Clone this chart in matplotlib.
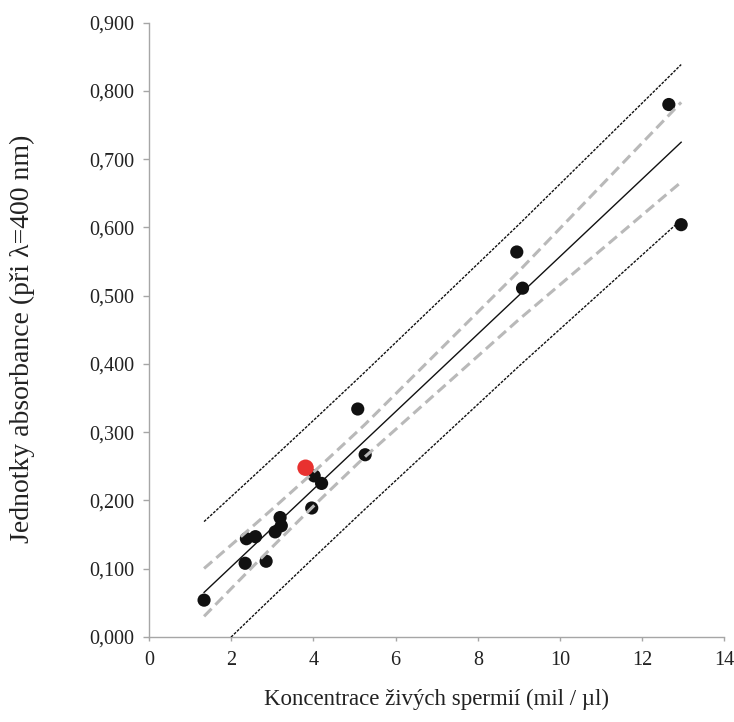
import numpy as np
import matplotlib
matplotlib.use("Agg")
import matplotlib.pyplot as plt
from matplotlib.ticker import FuncFormatter

# Data
conc = [1.34, 2.34, 2.85, 2.37, 2.59, 3.07, 3.19, 3.22, 3.96, 4.02, 4.20,
        5.08, 5.26, 8.95, 9.09, 12.65, 12.95]
absorb = [0.054, 0.108, 0.111, 0.144, 0.147, 0.154, 0.175, 0.163, 0.189,
          0.236, 0.225, 0.334, 0.267, 0.564, 0.511, 0.780, 0.604]
sample_x = [3.81]
sample_y = [0.248]
t_crit = 2.131  # Student t, 95 %, df = n - 2 = 15

x_ticks = [0, 2, 4, 6, 8, 10, 12, 14]
y_ticks = [0.0, 0.1, 0.2, 0.3, 0.4, 0.5, 0.6, 0.7, 0.8, 0.9]

# Regression with confidence and prediction bands
x = np.array(conc)
y = np.array(absorb)
n = len(x)
b, a = np.polyfit(x, y, 1)
resid = y - (a + b * x)
s = np.sqrt(np.sum(resid ** 2) / (n - 2))
sxx = np.sum((x - x.mean()) ** 2)
xs = np.sort(x)
yfit = a + b * xs
ci = t_crit * s * np.sqrt(1.0 / n + (xs - x.mean()) ** 2 / sxx)
pi = t_crit * s * np.sqrt(1.0 + 1.0 / n + (xs - x.mean()) ** 2 / sxx)

plt.rcParams['font.family'] = ['Liberation Serif', 'DejaVu Serif']

fig = plt.figure(figsize=(7.34, 7.22), dpi=100)
ax = fig.add_axes([0.203, 0.1177, 0.7838, 0.851])

ax.scatter(x, y, s=90, color='#111111', edgecolors='none', zorder=2)
ax.scatter(sample_x, sample_y, s=140, color='#e8312f', edgecolors='none', zorder=4)

ax.plot(xs, yfit, color='#111111', lw=1.0, zorder=3)
gray = '#b9b9b9'
ax.plot(xs, yfit + ci, color=gray, lw=2.2, ls=(0, (3.5, 1.8)), zorder=3)
ax.plot(xs, yfit - ci, color=gray, lw=2.2, ls=(0, (3.5, 1.8)), zorder=3)
ax.plot(xs, yfit + pi, color='#111111', lw=1.0, ls=(0, (2.0, 1.0)), zorder=3)
ax.plot(xs, yfit - pi, color='#111111', lw=1.0, ls=(0, (2.0, 1.0)), zorder=3)

ax.set_xlim(0, 14)
ax.set_ylim(0, 0.9)
ax.set_xticks(x_ticks)
ax.set_yticks(y_ticks)
ax.yaxis.set_major_formatter(FuncFormatter(lambda v, p: f"{v:.3f}".replace('.', ',')))

for sp in ['top', 'right']:
    ax.spines[sp].set_visible(False)
for sp in ['left', 'bottom']:
    ax.spines[sp].set_color('#a6a6a6')
    ax.spines[sp].set_linewidth(1.0)

ax.tick_params(axis='y', direction='out', length=4.3, width=1.0, color='#a6a6a6',
               labelsize=14.5, pad=6.5, labelcolor='#222222')
ax.tick_params(axis='x', direction='out', length=3, width=1.0, color='#a6a6a6',
               labelsize=14.5, pad=7, labelcolor='#222222')

ax.set_xlabel('Koncentrace živých spermií (mil / µl)', fontsize=16.5, color='#222222')
ax.xaxis.set_label_coords(0.5, -0.085)
ax.set_ylabel('Jednotky absorbance (při λ=400 nm)', fontsize=20, color='#222222')
ax.yaxis.set_label_coords(-0.198, 0.485)

fig.savefig('out.png', dpi=100)
